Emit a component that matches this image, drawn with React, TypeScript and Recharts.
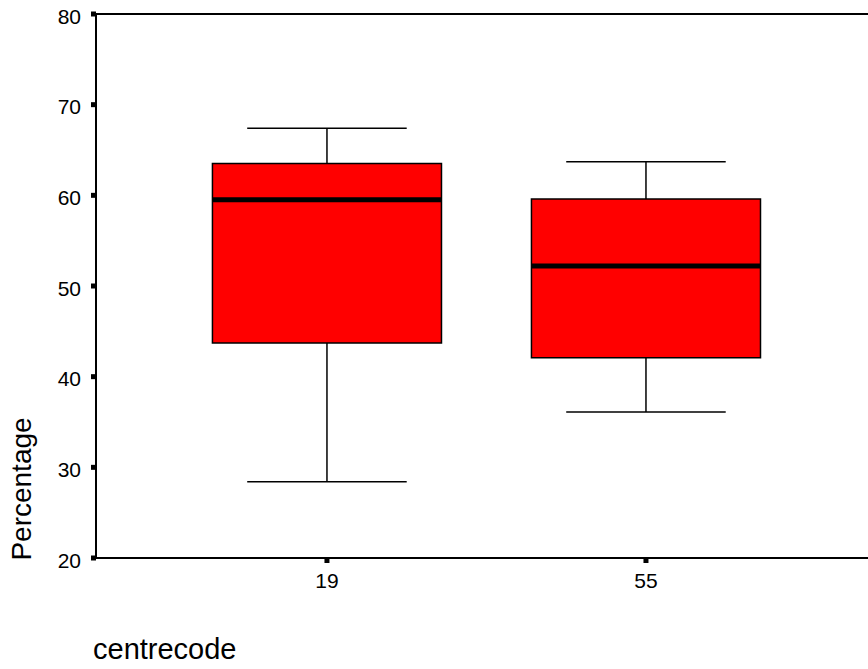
import React from 'react';
import { ComposedChart, XAxis, YAxis, Scatter, ReferenceArea, ReferenceLine } from 'recharts';

const categories = ['19', '55'];
const whiskerLow = [28.4, 36.1];
const q1 = [43.7, 42.1];
const median = [59.5, 52.2];
const q3 = [63.5, 59.6];
const whiskerHigh = [67.4, 63.7];
const yTicks = [20, 30, 40, 50, 60, 70, 80];

const FONT = '"Liberation Sans", Arial, sans-serif';
const BOX_HALF = 0.359;
const CAP_HALF = 0.25;

const data = categories.map((c, i) => ({ x: i, median: median[i] }));

const YTick = (props: any) => {
  const { x, y, payload } = props;
  return (
    <text x={x} y={y + 2} textAnchor="end" dominantBaseline="central" fontSize={21} fontFamily={FONT} fill="#000">
      {payload.value}
    </text>
  );
};

const XTick = (props: any) => {
  const { x, y, payload } = props;
  return (
    <text x={x} y={y} textAnchor="middle" dy="0.72em" fontSize={21} fontFamily={FONT} fill="#000">
      {categories[payload.value] ?? ''}
    </text>
  );
};

export default function App() {
  return (
    <div style={{ position: 'absolute', left: 0, top: 0, width: 868, height: 669, background: '#fff', fontFamily: FONT }}>
      <ComposedChart width={868} height={669} data={data} margin={{ top: 14, right: 0, bottom: 0, left: 0 }}>
        <XAxis
          type="number"
          dataKey="x"
          domain={[-0.724, 1.696]}
          ticks={[0, 1]}
          allowDataOverflow
          height={111}
          stroke="#000"
          strokeWidth={2}
          tickSize={5}
          tickMargin={10}
          tickLine={{ stroke: '#000', strokeWidth: 5 }}
          tick={<XTick />}
        />
        <YAxis
          type="number"
          domain={[20, 80]}
          ticks={yTicks}
          allowDataOverflow
          width={96}
          stroke="#000"
          strokeWidth={2}
          tickSize={5}
          tickMargin={10}
          tickLine={{ stroke: '#000', strokeWidth: 5 }}
          tick={<YTick />}
        />
        <ReferenceLine y={80} stroke="#000" strokeWidth={2} />
        {categories.map((c, i) => (
          <ReferenceLine
            key={'wl' + c}
            segment={[{ x: i, y: whiskerLow[i] }, { x: i, y: q1[i] }]}
            stroke="#000"
            strokeWidth={1.5}
          />
        ))}
        {categories.map((c, i) => (
          <ReferenceLine
            key={'wh' + c}
            segment={[{ x: i, y: q3[i] }, { x: i, y: whiskerHigh[i] }]}
            stroke="#000"
            strokeWidth={1.5}
          />
        ))}
        {categories.map((c, i) => (
          <ReferenceLine
            key={'cl' + c}
            segment={[{ x: i - CAP_HALF, y: whiskerLow[i] }, { x: i + CAP_HALF, y: whiskerLow[i] }]}
            stroke="#000"
            strokeWidth={1.5}
          />
        ))}
        {categories.map((c, i) => (
          <ReferenceLine
            key={'ch' + c}
            segment={[{ x: i - CAP_HALF, y: whiskerHigh[i] }, { x: i + CAP_HALF, y: whiskerHigh[i] }]}
            stroke="#000"
            strokeWidth={1.5}
          />
        ))}
        {categories.map((c, i) => (
          <ReferenceArea
            key={'box' + c}
            x1={i - BOX_HALF}
            x2={i + BOX_HALF}
            y1={q1[i]}
            y2={q3[i]}
            fill="#ff0000"
            fillOpacity={1}
            stroke="#000"
            strokeWidth={1.5}
          />
        ))}
        {categories.map((c, i) => (
          <ReferenceLine
            key={'md' + c}
            segment={[{ x: i - BOX_HALF, y: median[i] }, { x: i + BOX_HALF, y: median[i] }]}
            stroke="#000"
            strokeWidth={5}
          />
        ))}
        <Scatter dataKey="median" isAnimationActive={false} shape={() => null} />
      </ComposedChart>
      <div
        style={{
          position: 'absolute',
          left: 22,
          top: 489,
          transform: 'translate(-50%, -50%) rotate(-90deg)',
          fontSize: 28,
          whiteSpace: 'nowrap',
          color: '#000',
        }}
      >
        Percentage
      </div>
      <div
        style={{
          position: 'absolute',
          left: 93,
          top: 633,
          fontSize: 29,
          lineHeight: 'normal',
          whiteSpace: 'nowrap',
          color: '#000',
        }}
      >
        centrecode
      </div>
    </div>
  );
}
